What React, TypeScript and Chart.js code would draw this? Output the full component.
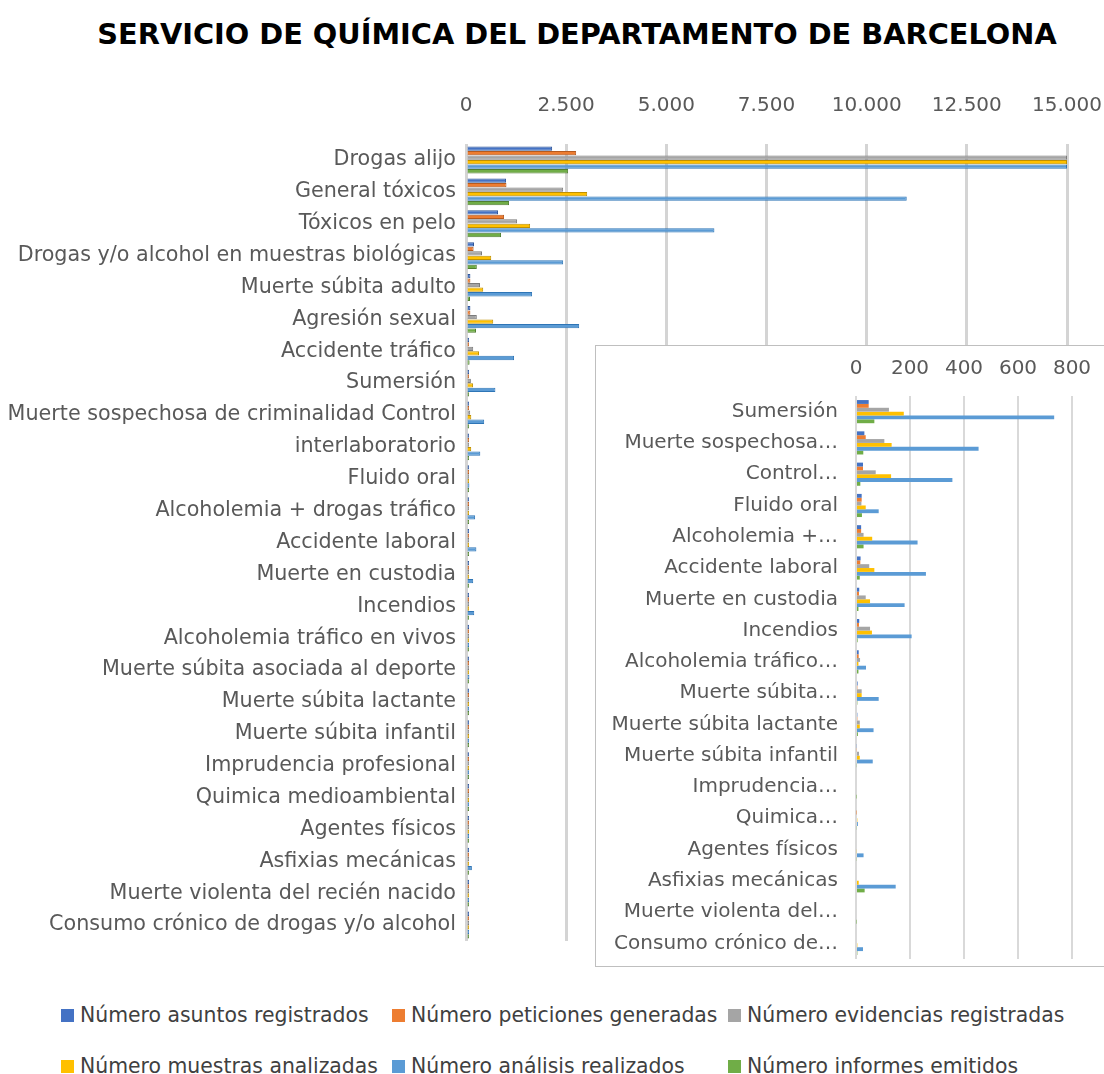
import React, { useEffect, useRef } from 'react';
import { Chart, registerables } from 'chart.js';

Chart.register(...registerables);

const categories = [
  'Drogas alijo',
  'General tóxicos',
  'Tóxicos en pelo',
  'Drogas y/o alcohol en muestras biológicas',
  'Muerte súbita adulto',
  'Agresión sexual',
  'Accidente tráfico',
  'Sumersión',
  'Muerte sospechosa de criminalidad Control',
  'interlaboratorio',
  'Fluido oral',
  'Alcoholemia + drogas tráfico',
  'Accidente laboral',
  'Muerte en custodia',
  'Incendios',
  'Alcoholemia tráfico en vivos',
  'Muerte súbita asociada al deporte',
  'Muerte súbita lactante',
  'Muerte súbita infantil',
  'Imprudencia profesional',
  'Quimica medioambiental',
  'Agentes físicos',
  'Asfixias mecánicas',
  'Muerte violenta del recién nacido',
  'Consumo crónico de drogas y/o alcohol',
];

const insetCategories = [
  'Sumersión',
  'Muerte sospechosa…',
  'Control…',
  'Fluido oral',
  'Alcoholemia +…',
  'Accidente laboral',
  'Muerte en custodia',
  'Incendios',
  'Alcoholemia tráfico…',
  'Muerte súbita…',
  'Muerte súbita lactante',
  'Muerte súbita infantil',
  'Imprudencia…',
  'Quimica…',
  'Agentes físicos',
  'Asfixias mecánicas',
  'Muerte violenta del…',
  'Consumo crónico de…',
];

const seriesNames = [
  'Número asuntos registrados',
  'Número peticiones generadas',
  'Número evidencias registradas',
  'Número muestras analizadas',
  'Número análisis realizados',
  'Número informes emitidos',
];

const asuntos = [2150, 1000, 800, 200, 110, 110, 60, 47, 31, 26, 21, 19, 17, 12, 12, 10, 6, 5, 3, 0, 0, 0, 0, 0, 0];
const peticiones = [2750, 1010, 950, 190, 110, 110, 60, 47, 36, 26, 21, 19, 16, 11, 11, 10, 5, 5, 3, 0, 2, 0, 0, 0, 0];
const evidencias = [15000, 2425, 1275, 400, 350, 270, 180, 122, 105, 73, 20, 28, 49, 36, 52, 15, 21, 14, 11, 0, 0, 0, 0, 0, 0];
const muestras = [15000, 3025, 1600, 630, 430, 680, 325, 177, 132, 130, 36, 60, 68, 52, 59, 9, 21, 14, 14, 0, 5, 3, 10, 0, 5];
const analisis = [15000, 11000, 6200, 2425, 1650, 2825, 1200, 734, 454, 357, 84, 228, 259, 180, 206, 37, 84, 65, 62, 0, 7, 28, 147, 0, 26];
const informes = [2550, 1075, 875, 270, 100, 250, 90, 68, 27, 16, 22, 28, 14, 9, 6, 9, 5, 7, 3, 2, 3, 3, 32, 2, 5];

const mainTicks = [0, 2500, 5000, 7500, 10000, 12500, 15000];
const insetTicks = [0, 200, 400, 600, 800];

const colors = ['#4472C4', '#ED7D31', '#A5A5A5', '#FFC000', '#5B9BD5', '#70AD47'];
const borders = ['#2F5597', '#B65A1E', '#7B7B7B', '#BF9000', '#2E75B6', '#507E32'];

const FONT = "'DejaVu Sans', sans-serif";
const TEXT = '#595959';

const fmt = (v: number) => String(v).replace(/\B(?=(\d{3})+(?!\d))/g, '.');

const allSeries = [asuntos, peticiones, evidencias, muestras, analisis, informes];

export default function App() {
  const mainRef = useRef<HTMLCanvasElement>(null);
  const insetRef = useRef<HTMLCanvasElement>(null);

  useEffect(() => {
    const main = new Chart(mainRef.current!, {
      type: 'bar',
      data: {
        labels: categories,
        datasets: allSeries.map((d, i) => ({
          label: seriesNames[i],
          data: d,
          backgroundColor: colors[i],
          borderColor: borders[i],
          borderWidth: 1,
          minBarLength: 3,
          categoryPercentage: 0.85,
          barPercentage: 0.95,
        })),
      },
      options: {
        indexAxis: 'y',
        animation: false,
        responsive: false,
        layout: { padding: { top: 60, right: 37, bottom: 49, left: 0 } },
        plugins: { legend: { display: false }, tooltip: { enabled: false }, title: { display: false } },
        scales: {
          x: {
            position: 'top',
            min: 0,
            max: 15000,
            afterBuildTicks: (s: any) => { s.ticks = mainTicks.map((v) => ({ value: v })); },
            afterFit: (s: any) => { s.height = 84; s.paddingLeft = 0; s.paddingRight = 0; },
            ticks: { callback: (v: any) => fmt(Number(v)), color: TEXT, font: { family: FONT, size: 20 }, padding: 26, maxRotation: 0 },
            grid: { color: '#d4d4d4', lineWidth: 3, drawTicks: false },
            border: { display: false },
          },
          y: {
            afterFit: (s: any) => { s.width = 466; s.paddingTop = 0; s.paddingBottom = 0; },
            ticks: { color: TEXT, font: { family: FONT, size: 20.7 }, padding: 10, autoSkip: false },
            grid: { display: false, drawTicks: false },
            border: { display: false },
          },
        },
      },
    });

    const inset = new Chart(insetRef.current!, {
      type: 'bar',
      data: {
        labels: insetCategories,
        datasets: allSeries.map((d, i) => ({
          label: seriesNames[i],
          data: d.slice(7),
          backgroundColor: colors[i],
          borderWidth: 0,
          categoryPercentage: 0.74,
          barPercentage: 1,
        })),
      },
      options: {
        indexAxis: 'y',
        animation: false,
        responsive: false,
        layout: { padding: { top: 0, right: 44, bottom: 7, left: 0 } },
        plugins: { legend: { display: false }, tooltip: { enabled: false } },
        scales: {
          x: {
            position: 'top',
            min: 0,
            max: 800,
            afterBuildTicks: (s: any) => { s.ticks = insetTicks.map((v) => ({ value: v })); },
            afterFit: (s: any) => { s.height = 50; s.paddingLeft = 0; s.paddingRight = 0; },
            ticks: { color: TEXT, font: { family: FONT, size: 20 }, padding: 15, maxRotation: 0 },
            grid: { color: '#d9d9d9', lineWidth: 2, drawTicks: false },
            border: { display: false },
          },
          y: {
            afterFit: (s: any) => { s.width = 260; s.paddingTop = 0; s.paddingBottom = 0; },
            ticks: { color: TEXT, font: { family: FONT, size: 20 }, padding: 18, autoSkip: false },
            grid: { display: false, drawTicks: false },
            border: { display: false },
          },
        },
      },
    });

    return () => { main.destroy(); inset.destroy(); };
  }, []);

  const legendPos = [
    [61, 1015], [392, 1015], [728, 1015],
    [61, 1066], [392, 1066], [728, 1066],
  ];

  return (
    <div style={{ position: 'fixed', left: 0, top: 0, width: 1104, height: 1074, overflow: 'hidden', background: '#fff', fontFamily: FONT }}>
      <div style={{ position: 'absolute', left: 50, width: 1054, top: 12, textAlign: 'center', fontWeight: 700, fontSize: 28.8, color: '#000', lineHeight: '44px', whiteSpace: 'nowrap', fontFamily: "'DejaVu Sans', sans-serif" }}>
        SERVICIO DE QUÍMICA DEL DEPARTAMENTO DE BARCELONA
      </div>
      <canvas ref={mainRef} width={1104} height={990} style={{ position: 'absolute', left: 0, top: 0, width: 1104, height: 990 }} />
      <div style={{ position: 'absolute', left: 595, top: 345, width: 520, height: 620, border: '1px solid #bfbfbf', background: '#fff' }}>
        <canvas ref={insetRef} width={520} height={620} style={{ display: 'block', width: 520, height: 620 }} />
      </div>
      {seriesNames.map((n, i) => (
        <div key={n} style={{ position: 'absolute', left: legendPos[i][0], top: legendPos[i][1] - 14, height: 28, display: 'flex', alignItems: 'center', whiteSpace: 'nowrap', color: '#404040', fontSize: 20.4 }}>
          <span style={{ display: 'inline-block', width: 13, height: 13, background: colors[i], marginRight: 6 }} />
          <span>{n}</span>
        </div>
      ))}
    </div>
  );
}
